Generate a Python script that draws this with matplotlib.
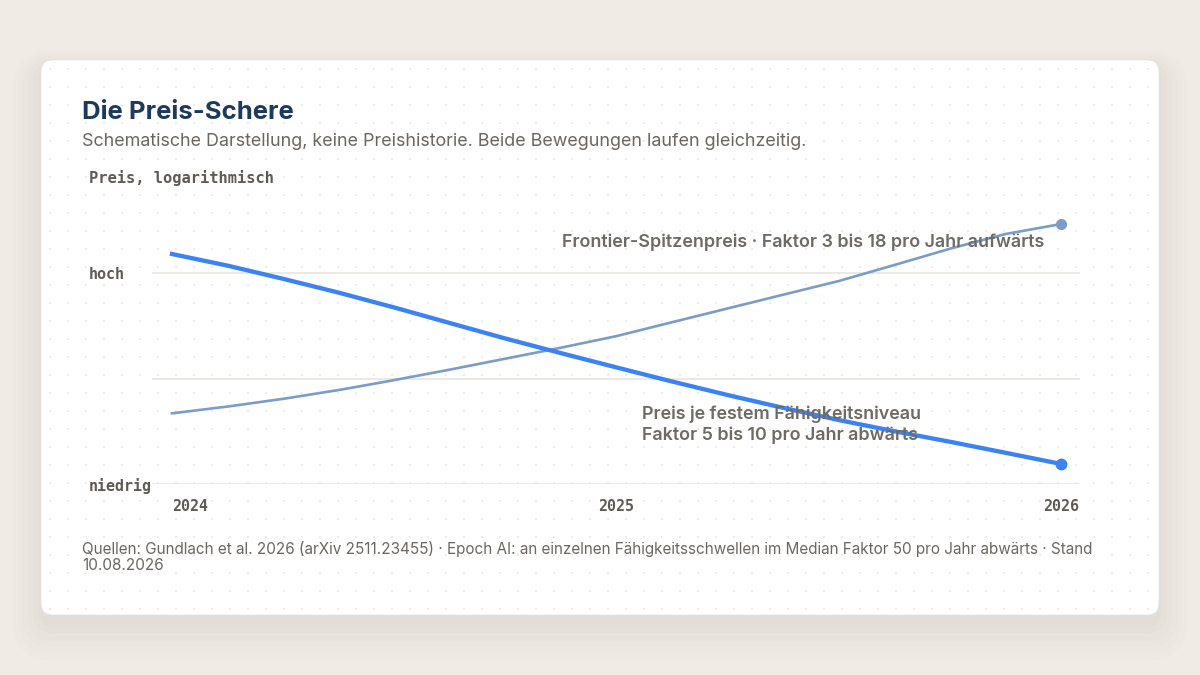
import numpy as np
import matplotlib.pyplot as plt
from matplotlib.patches import FancyBboxPatch

# values (schematic, log scale: niedrig=1, hoch=100)
years = [2024.0, 2024.125, 2024.25, 2024.375, 2024.5, 2024.625, 2024.75, 2024.875, 2025.0,
         2025.125, 2025.25, 2025.375, 2025.5, 2025.625, 2025.75, 2025.875, 2026.0]
fixed_price = [152.9, 118.6, 88.9, 65.7, 47.5, 33.8, 24.1, 17.5, 12.8,
               9.41, 7.00, 5.29, 4.05, 3.17, 2.52, 1.98, 1.55]
frontier_price = [4.69, 5.44, 6.44, 7.81, 9.70, 12.2, 15.5, 19.7, 25.4,
                  34.4, 46.5, 62.8, 84.7, 120.2, 171.6, 236.7, 294.5]

x_ticks = [2024, 2025, 2026]
x_labels = ['2024', '2025', '2026']
y_ticks = [1, 10, 100]
y_labels = ['niedrig', '', 'hoch']

title = 'Die Preis-Schere'
subtitle = 'Schematische Darstellung, keine Preishistorie. Beide Bewegungen laufen gleichzeitig.'
y_title = 'Preis, logarithmisch'
frontier_label = 'Frontier-Spitzenpreis · Faktor 3 bis 18 pro Jahr aufwärts'
fixed_label = 'Preis je festem Fähigkeitsniveau\nFaktor 5 bis 10 pro Jahr abwärts'
source = ('Quellen: Gundlach et al. 2026 (arXiv 2511.23455) · Epoch AI: an einzelnen '
          'Fähigkeitsschwellen im Median Faktor 50 pro Jahr abwärts · Stand\n10.08.2026')

BG = '#f0ebe4'
NAVY = '#1d3a5c'
TEXT = '#6b6661'
LABEL = '#6e6a66'
MONO_C = '#5e5a56'
BLUE = '#3b82f6'
SLATE = '#7a9cc6'
GRID = '#e9e7e2'
SANS = ['Inter', 'DejaVu Sans']
MONO = ['DejaVu Sans Mono']

W, H = 1200, 675
fig = plt.figure(figsize=(W / 100, H / 100), dpi=100)
fig.patch.set_facecolor(BG)

# background layer in pixel coordinates
bg = fig.add_axes([0, 0, 1, 1])
bg.set_xlim(0, W)
bg.set_ylim(H, 0)
bg.axis('off')

cx0, cy0, cx1, cy1 = 41, 60, 1159, 615
for i, a in enumerate([0.016, 0.014, 0.012, 0.010, 0.008, 0.007]):
    grow = 3 + i * 5
    bg.add_patch(FancyBboxPatch((cx0 - grow, cy0 - grow + 8 + i * 2), cx1 - cx0 + 2 * grow,
                                cy1 - cy0 + 2 * grow, boxstyle='round,pad=0,rounding_size=%d' % (12 + grow),
                                fc='#5a4a3a', ec='none', alpha=a))
bg.add_patch(FancyBboxPatch((cx0, cy0), cx1 - cx0, cy1 - cy0,
                            boxstyle='round,pad=0,rounding_size=12',
                            fc='white', ec='#e6e3de', lw=0.5))

dx = np.arange(cx0 + 9, cx1 - 4, 18)
dy = np.arange(cy0 + 9, cy1 - 4, 18)
gx, gy = np.meshgrid(dx, dy)
bg.scatter(gx.ravel(), gy.ravel(), s=2.2, c='#ebebeb', marker='s', linewidths=0)

bg.text(82, 119, title, fontsize=18.5, fontweight='bold', color=NAVY, family=SANS, va='baseline')
bg.text(82, 146, subtitle, fontsize=12.9, color=TEXT, family=SANS, va='baseline')
bg.text(89, 178, y_title, fontsize=11.1, fontweight='bold', color=MONO_C, family=MONO, va='center')
bg.text(82, 557, source, fontsize=11.0, color=TEXT, family=SANS, va='center', linespacing=1.15)

# chart
ax = fig.add_axes([152 / W, 1 - 484 / H, 928 / W, 279 / H])
ax.set_facecolor('none')
ax.set_yscale('log')
ax.set_xlim(2024 - 20 / 444.5, 2026 + 19 / 444.5)
ax.set_ylim(1, 10 ** 2.65)
for s in ax.spines.values():
    s.set_visible(False)

ax.set_yticks(y_ticks)
ax.set_yticklabels(y_labels)
ax.yaxis.set_minor_locator(plt.NullLocator())
ax.grid(axis='y', color=GRID, lw=1.3)
ax.set_axisbelow(True)
ax.tick_params(axis='y', length=0, pad=45.4, labelsize=10.8, labelcolor=MONO_C)
for t in ax.get_yticklabels():
    t.set_horizontalalignment('left')
    t.set_fontfamily(MONO)
    t.set_fontweight('bold')

ax.set_xticks(x_ticks)
ax.set_xticklabels(x_labels)
ax.tick_params(axis='x', length=0, pad=11, labelsize=10.8, labelcolor=MONO_C)
for t in ax.get_xticklabels():
    t.set_fontfamily(MONO)
    t.set_fontweight('bold')
ax.get_xticklabels()[0].set_horizontalalignment('left')

ax.plot(years, frontier_price, color=SLATE, lw=1.9, solid_joinstyle='round', zorder=3)
ax.plot(years[-1], frontier_price[-1], 'o', color=SLATE, ms=7, zorder=4)
ax.plot(years, fixed_price, color=BLUE, lw=3.1, solid_joinstyle='round', zorder=3)
ax.plot(years[-1], fixed_price[-1], 'o', color=BLUE, ms=7.5, zorder=4)

ax.annotate(frontier_label, xy=(years[-1], frontier_price[-1]), xytext=(-17, -18),
            textcoords='offset pixels', ha='right', va='center', fontsize=12.9,
            fontweight='semibold', color=LABEL, family=SANS, zorder=5)
ax.annotate(fixed_label, xy=(years[-1], fixed_price[-1]), xytext=(-419, 39),
            textcoords='offset pixels', ha='left', va='center', fontsize=12.9,
            fontweight='semibold', color=LABEL, family=SANS, linespacing=1.3, zorder=5)

fig.savefig('out.png', dpi=100, facecolor=BG)
